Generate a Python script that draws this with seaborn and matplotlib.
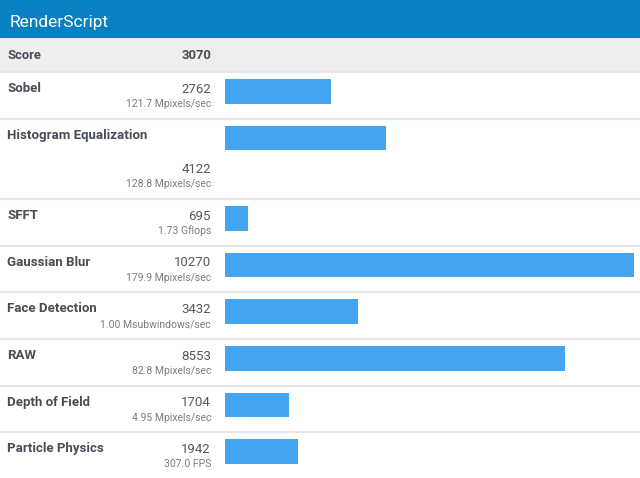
import numpy as np
import pandas as pd
import matplotlib
matplotlib.use('Agg')
import matplotlib.pyplot as plt
import seaborn as sns

title = 'RenderScript'
total_label = 'Score'
total_score = 3070
names = ['Sobel', 'Histogram Equalization', 'SFFT', 'Gaussian Blur',
         'Face Detection', 'RAW', 'Depth of Field', 'Particle Physics']
scores = [2762, 4122, 695, 10270, 3432, 8553, 1704, 1942]
details = ['121.7 Mpixels/sec', '128.8 Mpixels/sec', '1.73 Gflops',
           '179.9 Mpixels/sec', '1.00 Msubwindows/sec', '82.8 Mpixels/sec',
           '4.95 Mpixels/sec', '307.0 FPS']

sns.set_style('white')
plt.rcParams['font.family'] = ['Roboto', 'DejaVu Sans']

W, H = 640, 478
HEADER_H = 38
SCORE_H = 34
ROW_H = 46.7
TALL_H = 80.3
BAR_OFF, BAR_H = 7, 24.5
NAME_X, VAL_X = 7, 211
BAR_X0, BAR_X1 = 225, 634
BAR_PAD = 5  # px of the bar hidden behind the left edge

BLUE_HEAD = '#0880c2'
BAR_BLUE = '#43a5f2'
NAME_C = '#464d55'
VAL_C = '#52585f'
SUB_C = '#777c81'
SEP_C = '#e6e6e6'

# row layout: long names wrap the value onto a second line
heights = [TALL_H if len(n) > 16 else ROW_H for n in names]
tops = HEADER_H + SCORE_H + np.concatenate([[0], np.cumsum(heights)[:-1]])

fig = plt.figure(figsize=(W / 100, H / 100), dpi=100)
bg = fig.add_axes([0, 0, 1, 1])
bg.set_xlim(0, W)
bg.set_ylim(H, 0)
bg.axis('off')

bg.add_patch(plt.Rectangle((0, 0), W, HEADER_H, color=BLUE_HEAD, lw=0))
bg.add_patch(plt.Rectangle((0, HEADER_H), W, SCORE_H, color='#eeeeee', lw=0))
bg.text(10, 27, title, color='white', fontsize=12.5, va='baseline')
bg.text(NAME_X, HEADER_H + 21, total_label, color=NAME_C, fontsize=9.4,
        fontweight='bold', va='baseline')
bg.text(VAL_X, HEADER_H + 21, str(total_score), color=NAME_C, fontsize=9.4,
        fontweight='bold', va='baseline', ha='right')

for name, score, det, top, h in zip(names, scores, details, tops, heights):
    bg.axhline(top, color=SEP_C, lw=1.5)
    shift = h - ROW_H
    bg.text(NAME_X, top + 19.8, name, color=NAME_C, fontsize=9.5,
            fontweight='bold', va='baseline')
    bg.text(VAL_X, top + 20.5 + shift, str(score), color=VAL_C, fontsize=9.5,
            va='baseline', ha='right')
    bg.text(VAL_X, top + 35 + shift, det, color=SUB_C, fontsize=7.5,
            va='baseline', ha='right')

# bars on their own axes, y in pixel rows, x in score units
bx = fig.add_axes([BAR_X0 / W, 0, (BAR_X1 - BAR_X0) / W, 1])
df = pd.DataFrame({'score': scores, 'y': tops + BAR_OFF + BAR_H / 2})
min_gap = np.diff(np.sort(df['y'])).min()
sns.barplot(data=df, x='score', y='y', orient='y', native_scale=True,
            width=BAR_H / min_gap, color=BAR_BLUE, saturation=1,
            errorbar=None, linewidth=0, ax=bx)
xmax = max(scores)
px_per_unit = (BAR_X1 - BAR_X0 + BAR_PAD) / xmax
bx.set_xlim(BAR_PAD / px_per_unit, xmax)
bx.set_ylim(H, 0)
bx.axis('off')
bx.patch.set_alpha(0)

fig.savefig('out.png', dpi=100)
